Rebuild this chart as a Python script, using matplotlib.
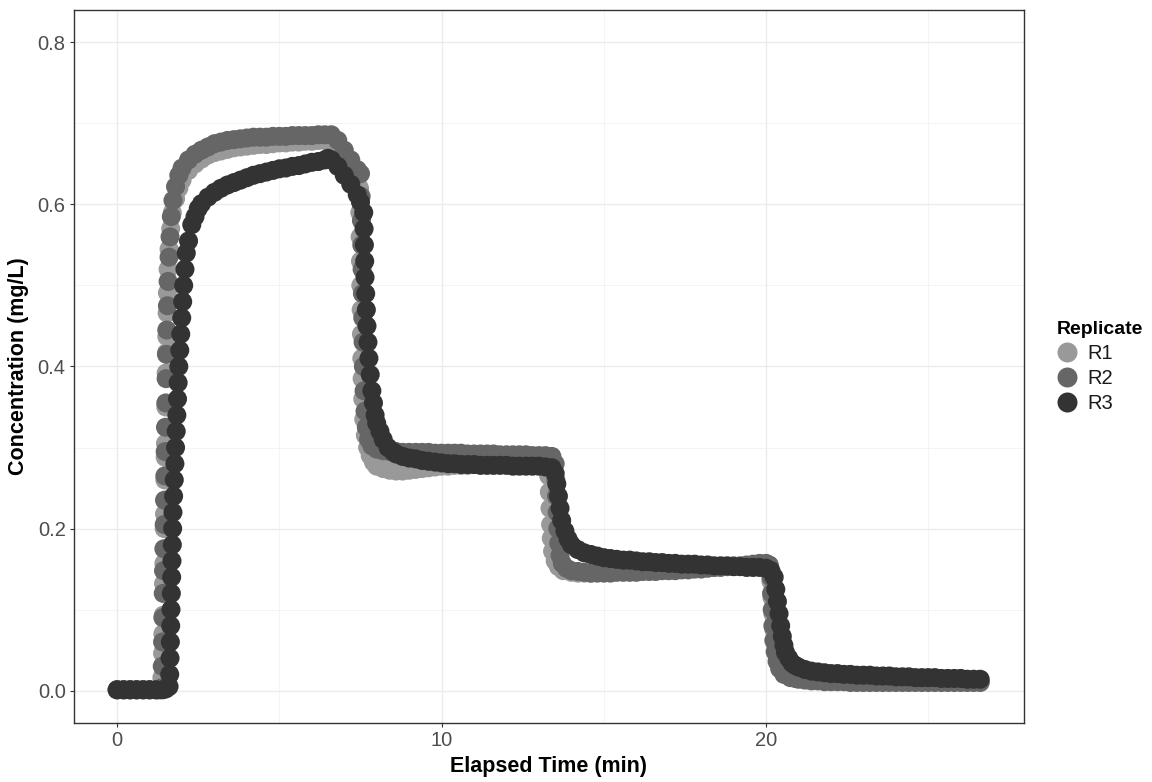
import matplotlib
matplotlib.use("Agg")
import matplotlib.pyplot as plt
from matplotlib.lines import Line2D

plt.rcParams['font.family'] = ['Liberation Sans', 'DejaVu Sans']

# elapsed time (min) and concentration (mg/L), one pair of lists per replicate
r1_time = [0, 0.2, 0.4, 0.6, 0.8, 1.0, 1.2, 1.3, 1.35,
           1.38, 1.40, 1.41, 1.42, 1.43, 1.44, 1.45, 1.46, 1.47, 1.48, 1.49, 1.50, 1.51, 1.52, 1.53, 1.54, 1.55,
           1.57, 1.60, 1.65, 1.70, 1.80, 1.90, 2.0, 2.2, 2.4, 2.6, 2.8, 3.0, 3.2, 3.4, 3.6, 3.8, 4.0, 4.2, 4.4,
           4.6, 4.8, 5.0, 5.2, 5.4, 5.6, 5.8, 6.0, 6.2, 6.4, 6.6, 6.8, 7.0, 7.2, 7.4,
           7.47, 7.48, 7.49, 7.50, 7.51, 7.52, 7.53, 7.54, 7.55, 7.57, 7.60, 7.65, 7.72, 7.8, 7.9, 8.0,
           8.2, 8.4, 8.6, 8.8, 9.0, 9.2, 9.4, 9.6, 9.8, 10.0, 10.2, 10.4, 10.6, 10.8, 11.0, 11.2, 11.4, 11.6,
           11.8, 12.0, 12.2, 12.4, 12.6, 12.8, 13.0, 13.2,
           13.30, 13.32, 13.34, 13.36, 13.38, 13.42, 13.5, 13.6, 13.75, 14.0,
           14.2, 14.4, 14.6, 14.8, 15.0, 15.2, 15.4, 15.6, 15.8, 16.0, 16.2, 16.4, 16.6, 16.8, 17.0, 17.2,
           17.4, 17.6, 17.8, 18.0, 18.2, 18.4, 18.6, 18.8, 19.0, 19.2, 19.4, 19.6, 19.8, 20.0,
           20.10, 20.15, 20.18, 20.21, 20.24, 20.28, 20.33, 20.4, 20.5, 20.6, 20.75, 20.9,
           21.0, 21.2, 21.4, 21.6, 21.8, 22.0, 22.2, 22.4, 22.6, 22.8, 23.0, 23.2, 23.4, 23.6, 23.8, 24.0,
           24.2, 24.4, 24.6, 24.8, 25.0, 25.2, 25.4, 25.6, 25.8, 26.0, 26.2, 26.4, 26.6]
r1_conc = [0.001, 0.001, 0.001, 0.001, 0.001, 0.001, 0.001, 0.001, 0.003,
           0.016, 0.046, 0.070, 0.093, 0.132, 0.157, 0.200, 0.218, 0.260, 0.288, 0.305, 0.350, 0.392, 0.417, 0.437, 0.466, 0.491,
           0.520, 0.545, 0.570, 0.590, 0.607, 0.620, 0.630, 0.642, 0.650, 0.656, 0.661, 0.664, 0.666, 0.668, 0.670, 0.671, 0.672, 0.673, 0.674,
           0.674, 0.675, 0.676, 0.676, 0.677, 0.677, 0.678, 0.678, 0.679, 0.679, 0.678, 0.670, 0.660, 0.650, 0.638,
           0.620, 0.590, 0.560, 0.530, 0.500, 0.470, 0.440, 0.410, 0.385, 0.360, 0.335, 0.315, 0.300, 0.290, 0.282, 0.277,
           0.274, 0.272, 0.271, 0.271, 0.272, 0.273, 0.274, 0.275, 0.276, 0.277, 0.277, 0.278, 0.278, 0.278, 0.279, 0.279, 0.279, 0.279,
           0.280, 0.280, 0.280, 0.280, 0.280, 0.280, 0.279, 0.275,
           0.265, 0.245, 0.225, 0.205, 0.188, 0.172, 0.160, 0.153, 0.148, 0.146,
           0.145, 0.145, 0.145, 0.146, 0.146, 0.146, 0.147, 0.147, 0.147, 0.148, 0.148, 0.149, 0.149, 0.150, 0.150, 0.150,
           0.151, 0.151, 0.151, 0.152, 0.152, 0.152, 0.153, 0.153, 0.153, 0.153, 0.154, 0.154, 0.154, 0.153,
           0.150, 0.135, 0.115, 0.095, 0.075, 0.058, 0.045, 0.035, 0.028, 0.024, 0.021, 0.019,
           0.018, 0.017, 0.016, 0.016, 0.015, 0.014, 0.014, 0.013, 0.013, 0.013, 0.012, 0.012, 0.012, 0.012, 0.012, 0.011,
           0.011, 0.011, 0.011, 0.011, 0.011, 0.011, 0.011, 0.011, 0.011, 0.011, 0.011, 0.011, 0.011]

r2_time = [0, 0.2, 0.4, 0.6, 0.8, 1.0, 1.2, 1.3, 1.35,
           1.39, 1.40, 1.41, 1.42, 1.43, 1.44, 1.45, 1.46, 1.47, 1.48, 1.49, 1.50, 1.51, 1.52, 1.53, 1.55, 1.57,
           1.60, 1.63, 1.67, 1.72, 1.8, 1.9, 2.0, 2.2, 2.4, 2.6, 2.8, 3.0, 3.2, 3.4, 3.6, 3.8, 4.0, 4.2, 4.4,
           4.6, 4.8, 5.0, 5.2, 5.4, 5.6, 5.8, 6.0, 6.2, 6.4, 6.6, 6.8, 7.0, 7.2, 7.4, 7.5,
           7.52, 7.53, 7.54, 7.55, 7.56, 7.57, 7.58, 7.59, 7.61, 7.64, 7.68, 7.75, 7.85, 8.0,
           8.2, 8.4, 8.6, 8.8, 9.0, 9.2, 9.4, 9.6, 9.8, 10.0, 10.2, 10.4, 10.6, 10.8, 11.0, 11.2, 11.4, 11.6,
           11.8, 12.0, 12.2, 12.4, 12.6, 12.8, 13.0, 13.2, 13.4,
           13.50, 13.52, 13.54, 13.56, 13.58, 13.61, 13.65, 13.72, 13.85, 14.0,
           14.2, 14.4, 14.6, 14.8, 15.0, 15.2, 15.4, 15.6, 15.8, 16.0, 16.2, 16.4, 16.6, 16.8, 17.0, 17.2,
           17.4, 17.6, 17.8, 18.0, 18.2, 18.4, 18.6, 18.8, 19.0, 19.2, 19.4, 19.6, 19.8, 20.0, 20.1,
           20.15, 20.17, 20.19, 20.21, 20.24, 20.28, 20.34, 20.42, 20.55, 20.75, 20.9,
           21.0, 21.2, 21.4, 21.6, 21.8, 22.0, 22.2, 22.4, 22.6, 22.8, 23.0, 23.2, 23.4, 23.6, 23.8, 24.0,
           24.2, 24.4, 24.6, 24.8, 25.0, 25.2, 25.4, 25.6, 25.8, 26.0, 26.2, 26.4, 26.6]
r2_conc = [0.001, 0.001, 0.001, 0.001, 0.001, 0.001, 0.001, 0.001, 0.003,
           0.030, 0.060, 0.090, 0.120, 0.148, 0.175, 0.205, 0.235, 0.265, 0.295, 0.325, 0.355, 0.385, 0.415, 0.445, 0.475, 0.505,
           0.535, 0.560, 0.585, 0.605, 0.622, 0.636, 0.645, 0.655, 0.662, 0.667, 0.671, 0.675, 0.677, 0.679, 0.680, 0.681, 0.682, 0.683, 0.683,
           0.683, 0.684, 0.684, 0.684, 0.685, 0.685, 0.685, 0.685, 0.686, 0.686, 0.686, 0.679, 0.667, 0.655, 0.643, 0.638,
           0.610, 0.580, 0.550, 0.520, 0.490, 0.460, 0.430, 0.400, 0.370, 0.345, 0.325, 0.310, 0.302, 0.298,
           0.296, 0.295, 0.295, 0.294, 0.294, 0.294, 0.294, 0.294, 0.293, 0.293, 0.293, 0.293, 0.293, 0.292, 0.292, 0.292, 0.292, 0.292,
           0.291, 0.291, 0.291, 0.291, 0.291, 0.290, 0.290, 0.290, 0.289,
           0.280, 0.260, 0.240, 0.220, 0.200, 0.182, 0.167, 0.157, 0.151, 0.148,
           0.147, 0.146, 0.145, 0.145, 0.145, 0.145, 0.146, 0.146, 0.146, 0.146, 0.147, 0.147, 0.147, 0.148, 0.148, 0.148,
           0.149, 0.149, 0.150, 0.150, 0.151, 0.152, 0.152, 0.153, 0.154, 0.154, 0.155, 0.156, 0.157, 0.157, 0.155,
           0.140, 0.120, 0.100, 0.080, 0.062, 0.048, 0.036, 0.027, 0.020, 0.016, 0.015,
           0.014, 0.013, 0.012, 0.012, 0.011, 0.011, 0.011, 0.011, 0.010, 0.010, 0.010, 0.010, 0.010, 0.010, 0.010, 0.010,
           0.010, 0.010, 0.010, 0.010, 0.010, 0.010, 0.010, 0.010, 0.010, 0.010, 0.010, 0.010, 0.010]

r3_time = [0, 0.2, 0.4, 0.6, 0.8, 1.0, 1.2, 1.4, 1.5, 1.6,
           1.62, 1.63, 1.64, 1.65, 1.66, 1.67, 1.68, 1.69, 1.70, 1.71, 1.72, 1.74, 1.76, 1.78, 1.80, 1.82, 1.84,
           1.86, 1.88, 1.90, 1.93, 1.96, 1.99, 2.02, 2.05, 2.09, 2.13, 2.2, 2.3, 2.4, 2.5, 2.6, 2.8, 3.0, 3.2,
           3.4, 3.6, 3.8, 4.0, 4.2, 4.4, 4.6, 4.8, 5.0, 5.2, 5.4, 5.6, 5.8, 6.0, 6.2, 6.4, 6.5, 6.6, 6.8, 7.0,
           7.2, 7.4, 7.5,
           7.60, 7.61, 7.62, 7.63, 7.64, 7.66, 7.68, 7.70, 7.73, 7.76, 7.80, 7.85, 7.90, 7.95, 8.0, 8.1, 8.2,
           8.35, 8.5, 8.6, 8.8, 9.0, 9.2, 9.4, 9.6, 9.8, 10.0, 10.2, 10.4, 10.6, 10.8, 11.0, 11.2, 11.4, 11.6,
           11.8, 12.0, 12.2, 12.4, 12.6, 12.8, 13.0, 13.2, 13.4,
           13.50, 13.55, 13.60, 13.65, 13.70, 13.8, 13.9, 14.0, 14.2, 14.4, 14.6, 14.8, 15.0, 15.2, 15.4,
           15.6, 15.8, 16.0, 16.2, 16.4, 16.6, 16.8, 17.0, 17.2, 17.4, 17.6, 17.8, 18.0, 18.2, 18.4, 18.6,
           18.8, 19.0, 19.2, 19.4, 19.6, 19.8, 20.0, 20.15,
           20.25, 20.30, 20.35, 20.40, 20.45, 20.50, 20.55, 20.6, 20.7, 20.8, 20.9, 21.0, 21.2, 21.4, 21.6,
           21.8, 22.0, 22.2, 22.4, 22.6, 22.8, 23.0, 23.2, 23.4, 23.6, 23.8, 24.0, 24.2, 24.4, 24.6, 24.8,
           25.0, 25.2, 25.4, 25.6, 25.8, 26.0, 26.2, 26.4, 26.6]
r3_conc = [0.001, 0.001, 0.001, 0.001, 0.001, 0.001, 0.001, 0.001, 0.002, 0.005,
           0.020, 0.040, 0.060, 0.080, 0.100, 0.120, 0.140, 0.160, 0.180, 0.200, 0.220, 0.240, 0.260, 0.280, 0.300, 0.320, 0.340,
           0.360, 0.380, 0.400, 0.420, 0.440, 0.460, 0.480, 0.500, 0.520, 0.540, 0.555, 0.575, 0.585, 0.595, 0.601, 0.609, 0.615, 0.620,
           0.624, 0.627, 0.630, 0.633, 0.636, 0.638, 0.640, 0.642, 0.644, 0.645, 0.647, 0.648, 0.650, 0.652, 0.653, 0.655, 0.657, 0.655, 0.647, 0.636,
           0.625, 0.612, 0.603,
           0.590, 0.570, 0.550, 0.530, 0.510, 0.490, 0.470, 0.450, 0.430, 0.410, 0.390, 0.370, 0.355, 0.340, 0.330, 0.320, 0.310,
           0.300, 0.295, 0.292, 0.289, 0.287, 0.286, 0.284, 0.283, 0.282, 0.281, 0.280, 0.280, 0.279, 0.279, 0.279, 0.278, 0.278, 0.278,
           0.278, 0.278, 0.277, 0.277, 0.277, 0.277, 0.277, 0.276, 0.275,
           0.268, 0.255, 0.240, 0.225, 0.210, 0.197, 0.187, 0.180, 0.174, 0.170, 0.168, 0.166, 0.164, 0.163, 0.162,
           0.161, 0.161, 0.160, 0.159, 0.159, 0.158, 0.158, 0.157, 0.157, 0.156, 0.156, 0.156, 0.155, 0.155, 0.154, 0.154,
           0.154, 0.153, 0.153, 0.152, 0.152, 0.152, 0.151, 0.148,
           0.140, 0.125, 0.110, 0.095, 0.080, 0.067, 0.056, 0.047, 0.040, 0.034, 0.031, 0.029, 0.026, 0.024, 0.023,
           0.022, 0.021, 0.021, 0.020, 0.020, 0.019, 0.019, 0.019, 0.018, 0.018, 0.018, 0.017, 0.017, 0.017, 0.016, 0.016,
           0.016, 0.016, 0.015, 0.015, 0.015, 0.015, 0.014, 0.014, 0.014]

replicates = ['R1', 'R2', 'R3']
colors = ['#999999', '#666666', '#333333']
series = [(r1_time, r1_conc), (r2_time, r2_conc), (r3_time, r3_conc)]

fig = plt.figure(figsize=(11.52, 7.82), dpi=100)
ax = fig.add_axes([74 / 1152, 1 - 723 / 782, 950 / 1152, 713 / 782])

msize = 13.7
for (t, c), col in zip(series, colors):
    ax.scatter(t, c, s=msize ** 2, color=col, edgecolors='none', zorder=3)

ax.set_xlim(-1.33, 27.95)
ax.set_ylim(-0.04, 0.84)
ax.set_xticks([0, 10, 20])
ax.set_xticks([5, 15, 25], minor=True)
ax.set_yticks([0.0, 0.2, 0.4, 0.6, 0.8])
ax.set_yticks([0.1, 0.3, 0.5, 0.7], minor=True)
ax.set_yticklabels(['0.0', '0.2', '0.4', '0.6', '0.8'])
ax.grid(which='major', color='#EBEBEB', linewidth=1.0, zorder=0)
ax.grid(which='minor', color='#F2F2F2', linewidth=0.6, zorder=0)
ax.set_axisbelow(True)

for sp in ax.spines.values():
    sp.set_color('#333333')
    sp.set_linewidth(1.0)
ax.tick_params(which='major', length=3, width=0.8, color='#333333',
               labelsize=14.5, labelcolor='#4D4D4D', pad=3)
ax.tick_params(which='minor', length=0)

ax.set_xlabel('Elapsed Time (min)', fontsize=15.5, fontweight='bold', labelpad=4)
ax.set_ylabel('Concentration (mg/L)', fontsize=15.5, fontweight='bold', labelpad=6)

handles = [Line2D([], [], marker='o', linestyle='', markersize=14.4, color=col, markeredgewidth=0)
           for col in colors]
leg = ax.legend(handles, replicates, title='Replicate', loc='upper left',
                bbox_to_anchor=(1040 / 1152, 1 - 304 / 782), bbox_transform=fig.transFigure,
                frameon=False, fontsize=14.5, title_fontproperties={'weight': 'bold', 'size': 14},
                handlelength=1.0, handletextpad=0.5, labelspacing=0.3, borderpad=0.35,
                alignment='left')
for txt in leg.get_texts():
    txt.set_color('#1A1A1A')

fig.savefig('out.png', dpi=100)
